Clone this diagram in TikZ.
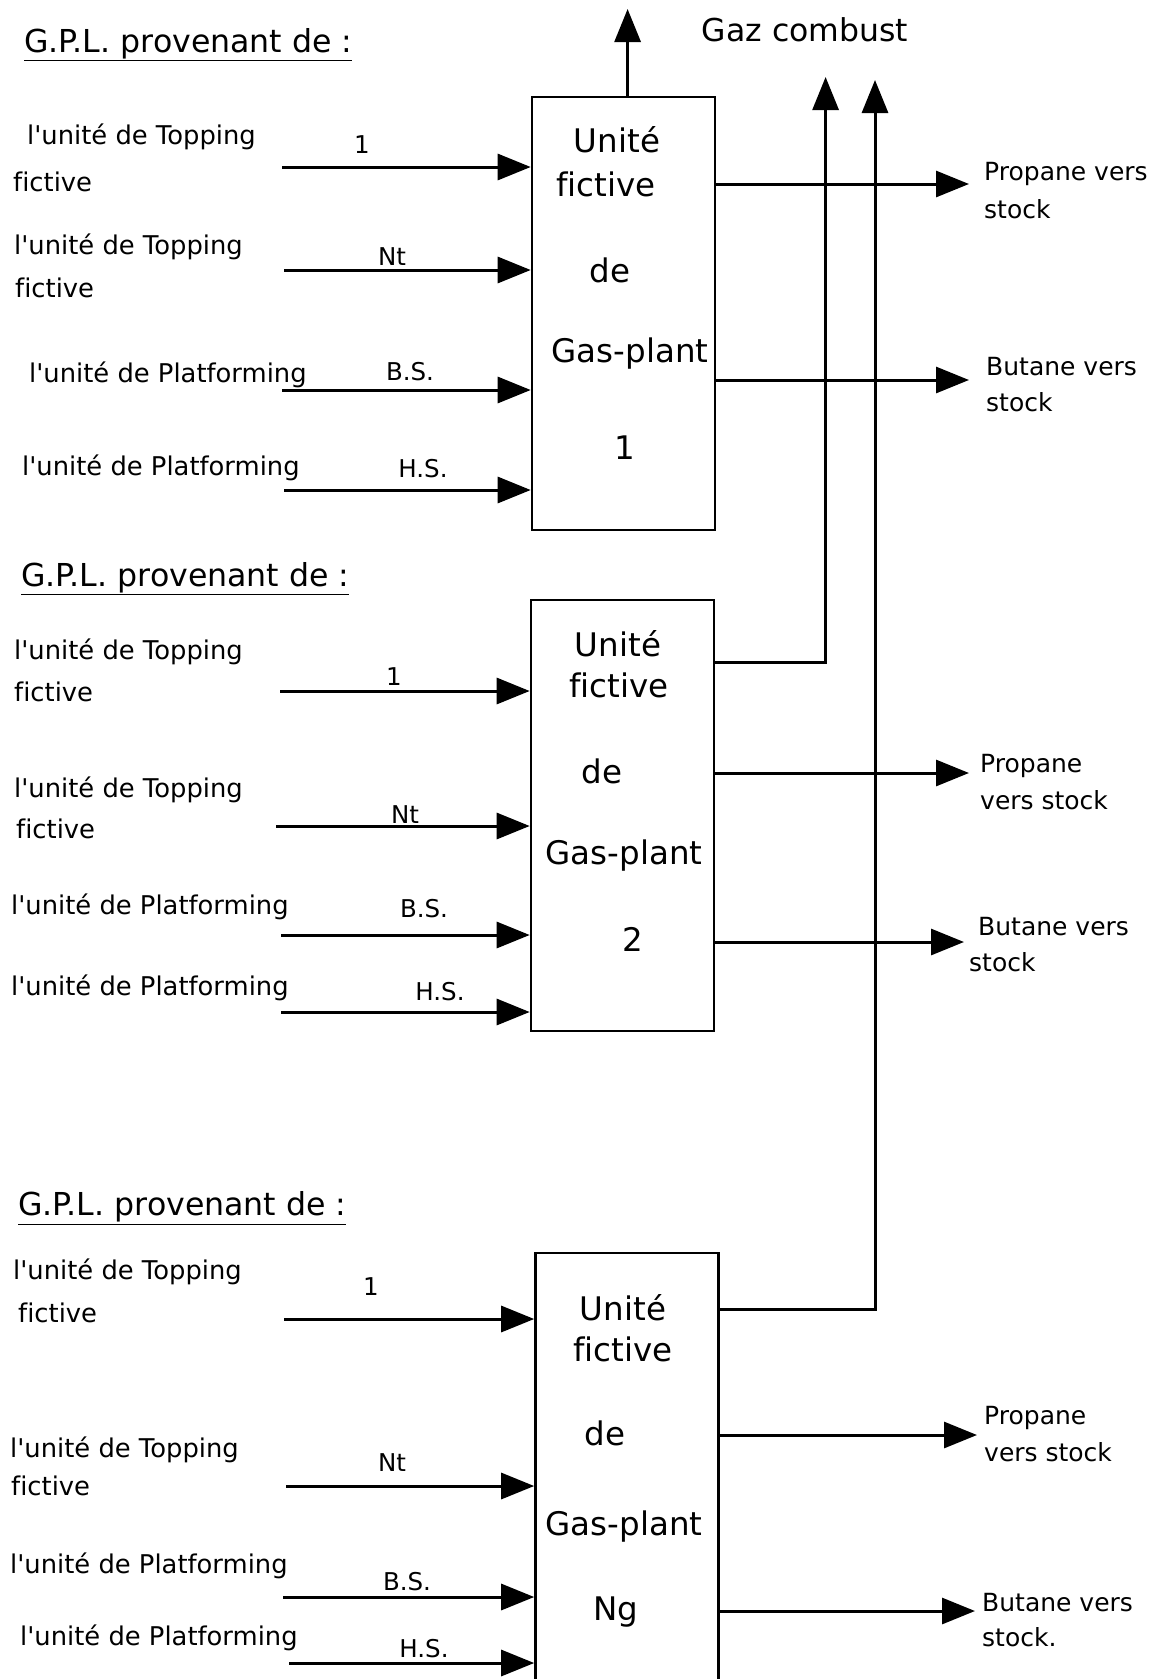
\documentclass[tikz,border=0pt]{standalone}
\usepackage{fontspec}
\setmainfont[Ligatures=NoCommon]{DejaVu Sans}
\usetikzlibrary{arrows.meta}
\newcommand\ap{\textquotesingle}
\begin{document}
\begin{tikzpicture}[x=1pt,y=-1pt,
  box/.style={draw, line width=2.6pt, inner sep=0, minimum width=183pt},
  flow/.style={line width=3pt, -{Triangle[length=33pt,width=26pt]}},
  lbl/.style={anchor=west, inner sep=0, font=\fontsize{25.8}{30}\selectfont},
  rlbl/.style={anchor=west, inner sep=0, font=\fontsize{25}{29}\selectfont},
  tag/.style={inner sep=0, font=\fontsize{24.5}{28}\selectfont},
  boxtxt/.style={inner sep=0, font=\fontsize{32.5}{38}\selectfont},
  title/.style={anchor=west, inner sep=0, font=\fontsize{31.6}{37}\selectfont}]
\path[use as bounding box] (0,0) rectangle (1163,1679);
\clip (0,0) rectangle (1163,1679);

% ---------- Section 1 ----------
\node[title] (t1) at (24,45) {\underline{G.P.L. provenant de :}};
\node[box, minimum height=433pt] (b1) at (623.5,313.5) {};
\node[boxtxt] (b1a) at (617,140) {Unité};
\node[boxtxt] (b1b) at (606,184) {fictive};
\node[boxtxt] (b1c) at (610,270) {de};
\node[boxtxt] (b1d) at (630,354) {Gas-plant};
\node[boxtxt] (b1e) at (625,448) {1};

\node[lbl] (l11a) at (27,137) {l\ap unité de Topping};
\node[lbl] (l11b) at (13,182) {fictive};
\node[lbl] (l12a) at (14,247) {l\ap unité de Topping};
\node[lbl] (l12b) at (15,288) {fictive};
\node[lbl] (l13) at (29,375) {l\ap unité de Platforming};
\node[lbl] (l14) at (22,468) {l\ap unité de Platforming};

\coordinate (i11) at (282,167);
\coordinate (i12) at (284,270);
\coordinate (i13) at (282,390);
\coordinate (i14) at (284,490);
\draw[flow] (i11) -- (i11 -| b1.west);
\draw[flow] (i12) -- (i12 -| b1.west);
\draw[flow] (i13) -- (i13 -| b1.west);
\draw[flow] (i14) -- (i14 -| b1.west);
\node[tag] (n11) at (362,145) {1};
\node[tag] (n12) at (392,257) {Nt};
\node[tag] (n13) at (410,372) {B.S.};
\node[tag] (n14) at (423,469) {H.S.};

\coordinate (o11) at (969,184);
\coordinate (o12) at (969,380);
\draw[flow] (o11 -| b1.east) -- (o11);
\draw[flow] (o12 -| b1.east) -- (o12);
\node[rlbl] (r11a) at (984,174) {Propane vers};
\node[rlbl] (r11b) at (984,209) {stock};
\node[rlbl] (r12a) at (986,367) {Butane vers};
\node[rlbl] (r12b) at (986,402) {stock};

\coordinate (gz) at (627.6,9);
\draw[flow] (gz |- b1.north) -- (gz);
\node[inner sep=0, font=\fontsize{31.5}{37}\selectfont] (gaz) at (805,30) {Gaz combust};

% ---------- Section 2 ----------
\node[title] (t2) at (21,579) {\underline{G.P.L. provenant de :}};
\node[box, minimum height=431pt] (b2) at (622.5,815.5) {};
\node[boxtxt] (b2a) at (618,644) {Unité};
\node[boxtxt] (b2b) at (619,685) {fictive};
\node[boxtxt] (b2c) at (602,771) {de};
\node[boxtxt] (b2d) at (624,856) {Gas-plant};
\node[boxtxt] (b2e) at (633,939) {2};

\node[lbl] (l21a) at (14,652) {l\ap unité de Topping};
\node[lbl] (l21b) at (14,692) {fictive};
\node[lbl] (l22a) at (14,790) {l\ap unité de Topping};
\node[lbl] (l22b) at (16,829) {fictive};
\node[lbl] (l23) at (11,907) {l\ap unité de Platforming};
\node[lbl] (l24) at (11,988) {l\ap unité de Platforming};

\coordinate (i21) at (280,691);
\coordinate (i22) at (276,826);
\coordinate (i23) at (281,935);
\coordinate (i24) at (281,1012);
\draw[flow] (i21) -- (i21 -| b2.west);
\draw[flow] (i22) -- (i22 -| b2.west);
\draw[flow] (i23) -- (i23 -| b2.west);
\draw[flow] (i24) -- (i24 -| b2.west);
\node[tag] (n21) at (394,677) {1};
\node[tag] (n22) at (405,815) {Nt};
\node[tag] (n23) at (424,909) {B.S.};
\node[tag] (n24) at (440,992) {H.S.};

\coordinate (o21) at (969,773);
\coordinate (o22) at (964,942);
\draw[flow] (o21 -| b2.east) -- (o21);
\draw[flow] (o22 -| b2.east) -- (o22);
\node[rlbl] (r21a) at (980,766) {Propane};
\node[rlbl] (r21b) at (980,800) {vers stock};
\node[rlbl] (r22a) at (978,927) {Butane vers};
\node[rlbl] (r22b) at (969,962) {stock};

\coordinate (p1) at (825.6,77);
\coordinate (j2) at (825.6,662);
\draw[flow] (j2 -| b2.east) -- (j2) -- (p1);

% ---------- Section 3 ----------
\node[title] (t3) at (18,1208) {\underline{G.P.L. provenant de :}};
\node[box, minimum height=447pt] (b3) at (627,1476.5) {};
\node[boxtxt] (b3a) at (623,1308) {Unité};
\node[boxtxt] (b3b) at (623,1349) {fictive};
\node[boxtxt] (b3c) at (605,1433) {de};
\node[boxtxt] (b3d) at (624,1527) {Gas-plant};
\node[boxtxt] (b3e) at (616,1612) {Ng};

\node[lbl] (l31a) at (13,1272) {l\ap unité de Topping};
\node[lbl] (l31b) at (18,1313) {fictive};
\node[lbl] (l32a) at (10,1450) {l\ap unité de Topping};
\node[lbl] (l32b) at (11,1486) {fictive};
\node[lbl] (l33) at (10,1566) {l\ap unité de Platforming};
\node[lbl] (l34) at (20,1638) {l\ap unité de Platforming};

\coordinate (i31) at (284,1319);
\coordinate (i32) at (286,1486);
\coordinate (i33) at (283,1597);
\coordinate (i34) at (289,1663);
\draw[flow] (i31) -- (i31 -| b3.west);
\draw[flow] (i32) -- (i32 -| b3.west);
\draw[flow] (i33) -- (i33 -| b3.west);
\draw[flow] (i34) -- (i34 -| b3.west);
\node[tag] (n31) at (371,1287) {1};
\node[tag] (n32) at (392,1463) {Nt};
\node[tag] (n33) at (407,1582) {B.S.};
\node[tag] (n34) at (424,1649) {H.S.};

\coordinate (o31) at (977,1435);
\coordinate (o32) at (975,1611);
\draw[flow] (o31 -| b3.east) -- (o31);
\draw[flow] (o32 -| b3.east) -- (o32);
\node[rlbl] (r31a) at (984,1418) {Propane};
\node[rlbl] (r31b) at (984,1452) {vers stock};
\node[rlbl] (r32a) at (982,1603) {Butane vers};
\node[rlbl] (r32b) at (982,1637) {stock.};

\coordinate (p2) at (875,80);
\coordinate (j3) at (875,1309);
\draw[flow] (j3 -| b3.east) -- (j3) -- (p2);
\end{tikzpicture}
\end{document}
